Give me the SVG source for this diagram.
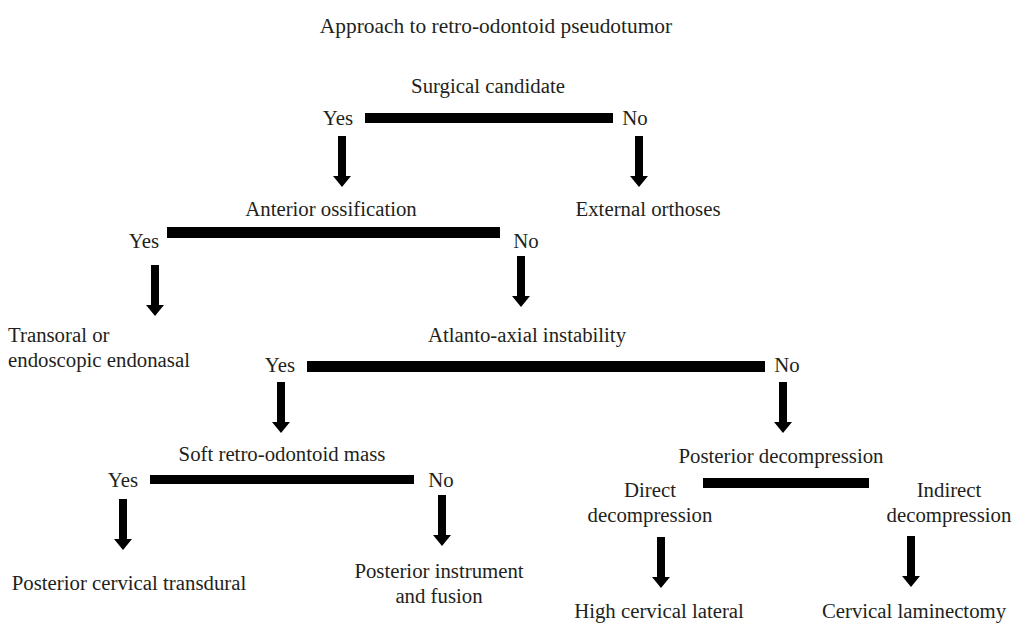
<svg xmlns="http://www.w3.org/2000/svg" xmlns:xlink="http://www.w3.org/1999/xlink" width="1012" height="623" viewBox="0 0 1012 623">
<style>
text{font-family:"Liberation Serif","Times New Roman",serif;font-size:20.8px;fill:#231f20;text-anchor:middle}
.l{text-anchor:start}
.bar{fill:#000}
.arr{fill:#000}
</style>
<defs>
<path id="arrow" d="M-4,0 H4 V40 H9 L0,51 L-9,40 H-4 Z"/>
</defs>
<rect width="1012" height="623" fill="#fff"/>
<g id="title"><text x="496" y="33" style="font-size:21.4px">Approach to retro-odontoid pseudotumor</text></g>

<g id="surgical-candidate"><text x="488" y="93">Surgical candidate</text></g>
<g id="external-orthoses"><text x="648" y="216">External orthoses</text></g>
<g id="anterior-ossification"><text x="331" y="216">Anterior ossification</text></g>
<g id="transoral"><text class="l" x="8" y="342">Transoral or</text><text class="l" x="8" y="367">endoscopic endonasal</text></g>
<g id="atlanto-axial"><text x="527" y="342">Atlanto-axial instability</text></g>
<g id="soft-mass"><text x="282" y="461">Soft retro-odontoid mass</text></g>
<g id="posterior-decompression"><text x="781" y="463">Posterior decompression</text></g>
<g id="direct"><text x="650" y="497">Direct</text><text x="650" y="522">decompression</text></g>
<g id="indirect"><text x="949" y="497">Indirect</text><text x="949" y="522">decompression</text></g>
<g id="transdural"><text x="129" y="590">Posterior cervical transdural</text></g>
<g id="instrument"><text x="439" y="578">Posterior instrument</text><text x="439" y="603">and fusion</text></g>
<g id="high-cervical"><text x="659" y="618">High cervical lateral</text></g>
<g id="laminectomy"><text x="914" y="618">Cervical laminectomy</text></g>

<g id="connectors">
<rect class="bar" x="365" y="113" width="248" height="10"/>
<text x="338" y="125">Yes</text><text x="635" y="125">No</text>
<use xlink:href="#arrow" class="arr" x="342" y="136"/>
<use xlink:href="#arrow" class="arr" x="639" y="136"/>

<rect class="bar" x="167" y="227" width="333" height="11"/>
<text x="144" y="248">Yes</text><text x="526" y="248">No</text>
<use xlink:href="#arrow" class="arr" x="155" y="265"/>
<use xlink:href="#arrow" class="arr" x="521" y="256"/>

<rect class="bar" x="307" y="361" width="458" height="11"/>
<text x="280" y="372">Yes</text><text x="787" y="372">No</text>
<use xlink:href="#arrow" class="arr" x="281" y="382"/>
<use xlink:href="#arrow" class="arr" x="783" y="382"/>

<rect class="bar" x="150" y="475" width="264" height="9"/>
<text x="123" y="487">Yes</text><text x="441" y="487">No</text>
<use xlink:href="#arrow" class="arr" x="123" y="499"/>
<use xlink:href="#arrow" class="arr" x="442" y="495"/>

<rect class="bar" x="703" y="478" width="166" height="10"/>
<use xlink:href="#arrow" class="arr" x="661" y="537"/>
<use xlink:href="#arrow" class="arr" x="911" y="536"/>
</g>
</svg>
